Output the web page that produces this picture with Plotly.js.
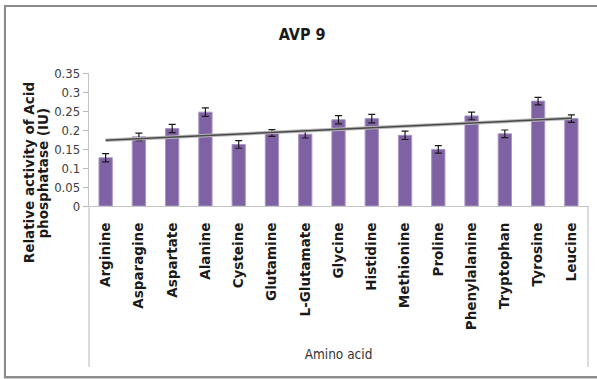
<!DOCTYPE html>
<html>
<head>
<meta charset="utf-8">
<script src="https://cdn.plot.ly/plotly-3.0.1.min.js"></script>
<style>
  html, body { margin: 0; padding: 0; background: #fff; overflow: hidden; }
  #wrap { position: relative; width: 597px; height: 379px; }
  #chart { position: absolute; left: 0; top: 0; width: 597px; height: 379px; }
  #frame { position: absolute; left: 4px; top: 5px; width: 600px; height: 369px;
           border: 2px solid #8c8c8c; box-shadow: 0 1px 1px #c8c8c8; pointer-events: none; }
  /* narrow face for the numeric ticks and plain titles */
  #chart .ytick text, #chart .xtitle, #chart .gtitle { font-stretch: condensed !important; }
</style>
</head>
<body>
<div id="wrap">
  <div id="chart"></div>
  <div id="frame"></div>
</div>
<script>
// Amino acids tested
const aminoAcids = ["Arginine", "Asparagine", "Aspartate", "Alanine", "Cysteine",
  "Glutamine", "L-Glutamate", "Glycine", "Histidine", "Methionine", "Proline",
  "Phenylalanine", "Tryptophan", "Tyrosine", "Leucine"];

// Relative activity of acid phosphatase (IU)
const activity = [0.127, 0.182, 0.204, 0.247, 0.162, 0.192, 0.189, 0.227,
  0.230, 0.186, 0.149, 0.237, 0.190, 0.276, 0.230];

// Standard error for each amino acid
const stdErr = [0.011, 0.010, 0.011, 0.011, 0.010, 0.009, 0.010, 0.011,
  0.011, 0.011, 0.010, 0.010, 0.010, 0.010, 0.010];

// Y axis ticks
const yTicks = [0, 0.05, 0.1, 0.15, 0.2, 0.25, 0.3, 0.35];
const yTickText = ["0", "0.05", "0.1", "0.15", "0.2", "0.25", "0.3", "0.35"];

// Linear trend (least squares over category index)
const n = activity.length;
const idx = activity.map((_, i) => i + 1);
const mx = idx.reduce((a, b) => a + b, 0) / n;
const my = activity.reduce((a, b) => a + b, 0) / n;
let sxy = 0, sxx = 0;
for (let i = 0; i < n; i++) { sxy += (idx[i] - mx) * (activity[i] - my); sxx += (idx[i] - mx) ** 2; }
const slope = sxy / sxx;
const trendX = [aminoAcids[0], aminoAcids[n - 1]];
const trendY = [my + slope * (1 - mx), my + slope * (n - mx)];

const narrow = '"DejaVu Sans Condensed", "DejaVu Sans", sans-serif';
const boldFace = '"DejaVu Sans", Verdana, sans-serif';

const bars = {
  type: 'bar',
  x: aminoAcids,
  y: activity,
  marker: { color: '#7f62a3', line: { color: '#a996c6', width: 1 } },
  error_y: { type: 'data', array: stdErr, visible: true, color: '#1a1a1a', thickness: 1.2, width: 3.5 },
  hoverinfo: 'x+y'
};

const trendHalo = {
  type: 'scatter', mode: 'lines', x: trendX, y: trendY,
  line: { color: '#b8b8b8', width: 3.5 }, hoverinfo: 'skip'
};
const trend = {
  type: 'scatter', mode: 'lines', x: trendX, y: trendY,
  line: { color: '#4a4a4a', width: 1.5 }, hoverinfo: 'skip'
};

const layout = {
  width: 597, height: 379,
  margin: { l: 89, r: 9, t: 73, b: 173 },
  paper_bgcolor: '#ffffff', plot_bgcolor: '#ffffff',
  showlegend: false,
  bargap: 0.6,
  title: {
    text: '<b>AVP 9</b>',
    font: { family: narrow, size: 16, color: '#1a1a1a' },
    x: 0.506, xref: 'container', xanchor: 'center',
    y: 0.91, yref: 'container', yanchor: 'middle'
  },
  xaxis: {
    type: 'category',
    categoryorder: 'array', categoryarray: aminoAcids,
    tickangle: -90,
    tickfont: { family: boldFace, size: 13.5, color: '#1a1a1a', weight: 'bold' },
    ticks: '', ticklabelstandoff: 10,
    showline: true, linecolor: '#c4c4c4', linewidth: 1.2,
    showgrid: false, zeroline: false,
    title: {
      text: 'Amino acid',
      font: { family: narrow, size: 13.5, color: '#333333' },
      standoff: 20
    },
    automargin: false
  },
  yaxis: {
    range: [0, 0.35],
    tickvals: yTicks, ticktext: yTickText,
    tickfont: { family: narrow, size: 13, color: '#404040' },
    ticks: 'outside', ticklen: 5, tickcolor: '#b8b8b8', tickwidth: 1,
    showline: true, linecolor: '#c4c4c4', linewidth: 1.2,
    showgrid: false, zeroline: false,
    automargin: false
  },
  shapes: [
    { type: 'line', xref: 'paper', yref: 'paper', x0: 0, x1: 0, y0: -1.21, y1: 0,
      line: { color: '#c4c4c4', width: 1.2 } },
    { type: 'line', xref: 'paper', yref: 'paper', x0: 1, x1: 1, y0: -1.21, y1: 0,
      line: { color: '#c4c4c4', width: 1.2 } }
  ],
  annotations: [
    { text: '<b>Relative activity of Acid</b>', textangle: -90, showarrow: false,
      xref: 'paper', yref: 'paper', x: -0.120, y: 0.248, xanchor: 'center', yanchor: 'middle',
      font: { family: boldFace, size: 13.5, color: '#1a1a1a' } },
    { text: '<b>phosphatase (IU)</b>', textangle: -90, showarrow: false,
      xref: 'paper', yref: 'paper', x: -0.093, y: 0.248, xanchor: 'center', yanchor: 'middle',
      font: { family: boldFace, size: 13.5, color: '#1a1a1a' } }
  ]
};

Plotly.newPlot('chart', [bars, trendHalo, trend], layout, { displayModeBar: false, staticPlot: true });
</script>
</body>
</html>
